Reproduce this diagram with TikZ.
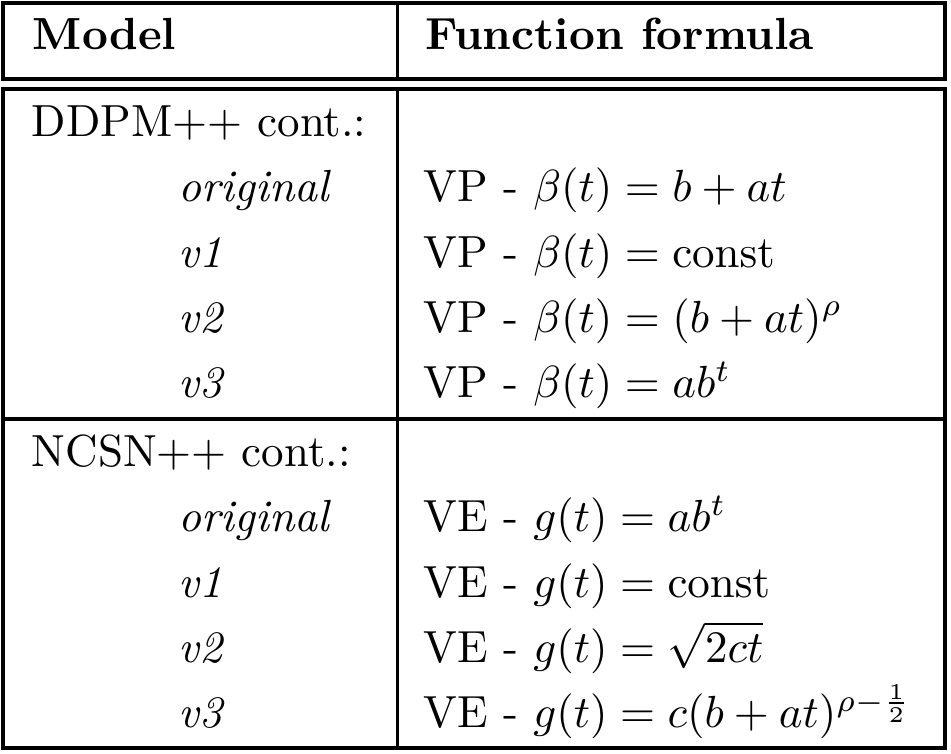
\documentclass[tikz,border=0pt]{standalone}
\tikzset{
Head/.style={anchor=base west, inner sep=0pt, font=\bfseries},
Cell/.style={anchor=base west, inner sep=0pt},
Ver/.style={anchor=base west, inner sep=0pt, font=\itshape},
TableLine/.style={draw=black, line width=0.7pt},
}
\begin{document}
\begin{tikzpicture}[x=0.2222pt, y=-0.2222pt]
	\useasboundingbox (0,0) rectangle (951,754);
	% frame
	\draw[TableLine] (3,3) rectangle (945,79);
	\draw[TableLine] (3,89) rectangle (945,748);
	\draw[TableLine] (397.5,3) -- (397.5,79);
	\draw[TableLine] (397.5,89) -- (397.5,748);
	\draw[TableLine] (3,419) -- (945,419);

	\node[Head] (model) at (32,49.5) {Model};
	\node[Head] (formula) at (425,49.5) {Function formula};

	% DDPM++ block
	\node[Cell] (ddpm) at (31,136.7) {DDPM++ cont.:};
	\foreach \v [count=\i] in {original, v1, v2, v3}
		\node[Ver] (D\v) at (178,136.7+\i*65.2) {\v};
	\foreach \f [count=\i] in {b+at, \mathrm{const}, (b+at)^\rho, ab^t}
		\node[Cell] (FD\i) at (423,136.7+\i*65.2) {VP - $\beta(t) = \f$};

	% NCSN++ block
	\node[Cell] (ncsn) at (31,466.7) {NCSN++ cont.:};
	\foreach \v [count=\i] in {original, v1, v2, v3}
		\node[Ver] (N\v) at (178,466.7+\i*65.2) {\v};
	\foreach \f [count=\i] in {ab^t, \mathrm{const}, \sqrt{2ct}, c(b+at)^{\rho-\frac{1}{2}}}
		\node[Cell] (FN\i) at (423,466.7+\i*65.2) {VE - $g(t) = \f$};
\end{tikzpicture}
\end{document}
